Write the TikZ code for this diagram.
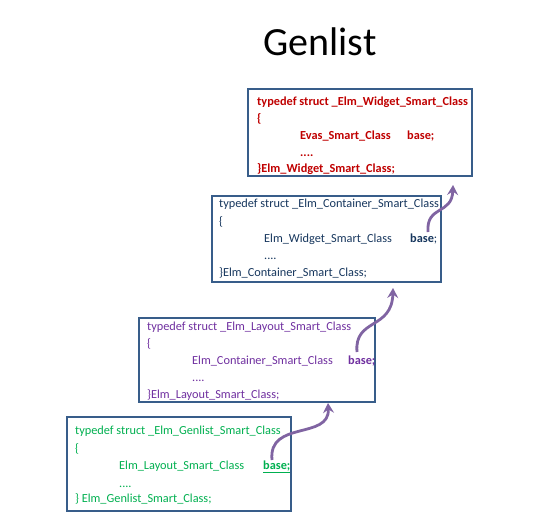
\documentclass[tikz,border=0pt]{standalone}
\usepackage{fontspec}
\setmainfont{Carlito}
\usetikzlibrary{arrows.meta}
\definecolor{boxblue}{HTML}{385D8A}
\definecolor{cred}{HTML}{C00000}
\definecolor{cnavy}{HTML}{17375E}
\definecolor{cpurple}{HTML}{7030A0}
\definecolor{cgreen}{HTML}{00B050}
\definecolor{arrowpurple}{HTML}{8064A2}
\tikzset{
  structbox/.style={draw=boxblue, line width=2.2pt, fill=white},
  code/.style={anchor=base west, inner sep=0pt, font=\fontsize{12.3}{14}\selectfont},
  inherit/.style={draw=arrowpurple, line width=2.8pt, -{Stealth[length=10pt,width=11pt,inset=3.5pt]}},
}
\newcommand{\boxat}[5]{\node[structbox, minimum width=#4-#2, minimum height=#5-#3, inner sep=0pt] (#1) at ({(#2+#4)/2},{(#3+#5)/2}) {};}
\begin{document}
\begin{tikzpicture}[x=1pt,y=-1pt]
\useasboundingbox (0,0) rectangle (558,528);
\node[font=\fontsize{40}{44}\selectfont, inner sep=0pt] (title) at (320,42) {Genlist};

% boxes
\boxat{b1}{248}{89}{472}{176}
\boxat{b2}{212}{196}{441}{282}
\boxat{b3}{139}{318}{375}{402}
\boxat{b4}{67}{417}{291}{511}

% box 1 text
\begin{scope}[every node/.style={code, text=cred, font=\fontsize{12.3}{14}\selectfont\bfseries}]
\node (t1a) at (257,105) {typedef struct \_Elm\_Widget\_Smart\_Class};
\node (t1b) at (257,122) {\{};
\node (t1c) at (300,139) {Evas\_Smart\_Class};
\node (t1d) at (407,139) {base;};
\node (t1e) at (300,156) {....};
\node (t1f) at (257,172) {\}Elm\_Widget\_Smart\_Class;};
\end{scope}

% box 2 text
\begin{scope}[every node/.style={code, text=cnavy}]
\node (t2a) at (219,207) {typedef struct \_Elm\_Container\_Smart\_Class};
\node (t2b) at (219,225) {\{};
\node (t2c) at (264,242) {Elm\_Widget\_Smart\_Class};
\node (t2d) at (410,242) {\textbf{base};};
\node (t2e) at (264,259) {....};
\node (t2f) at (219,276) {\}Elm\_Container\_Smart\_Class;};
\end{scope}

% box 3 text
\begin{scope}[every node/.style={code, text=cpurple}]
\node (t3a) at (147,330) {typedef struct \_Elm\_Layout\_Smart\_Class};
\node (t3b) at (147,347) {\{};
\node (t3c) at (192,364) {Elm\_Container\_Smart\_Class};
\node (t3d) at (348,364) {\textbf{base;}};
\node (t3e) at (192,381) {....};
\node (t3f) at (147,398) {\}Elm\_Layout\_Smart\_Class;};
\end{scope}

% box 4 text
\begin{scope}[every node/.style={code, text=cgreen}]
\node (t4a) at (75,434) {typedef struct \_Elm\_Genlist\_Smart\_Class};
\node (t4b) at (75,452) {\{};
\node (t4c) at (119,469) {Elm\_Layout\_Smart\_Class};
\node (t4d) at (263,469) {\underline{\textbf{base;}}};
\node (t4e) at (119,487) {....};
\node (t4f) at (75,502) {\} Elm\_Genlist\_Smart\_Class;};
\end{scope}

% arrow endpoints
\coordinate (a1s) at (428,232);
\coordinate (a1e) at (453,185);
\coordinate (a2s) at (357,352);
\coordinate (a2e) at (393,288);
\coordinate (a3s) at (272,460);
\coordinate (a3e) at (328,403);

\draw[inherit] (a1s) .. controls (426,205) and (452,215) .. (a1e);
\draw[inherit] (a2s) .. controls (354,318) and (392,330) .. (a2e);
\draw[inherit] (a3s) .. controls (268,420) and (330,440) .. (a3e);
\end{tikzpicture}
\end{document}
